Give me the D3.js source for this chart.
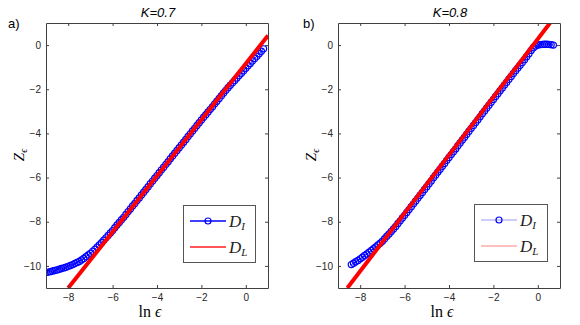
<!DOCTYPE html>
<html>
<head>
<meta charset="utf-8">
<script src="https://cdn.jsdelivr.net/npm/d3@7"></script>
<style>
  body { margin: 0; background: #fff; }
  .axis text { font-family: "Liberation Sans", Arial, sans-serif; font-size: 10px; fill: #262626; }
  .axis path, .axis line { stroke: #404040; }
</style>
</head>
<body>
<svg id="chart" width="580" height="325"></svg>
<script>
// ---- data ----
let xTicks = [-8, -6, -4, -2, 0];
let yTicks = [-10, -8, -6, -4, -2, 0];
let titles = ['K=0.7', 'K=0.8'];
let panelTags = ['a)', 'b)'];

// panel a) D_I (open circles)
let lnEpsA = [-9.0, -8.9, -8.8, -8.7, -8.6, -8.5, -8.4, -8.3, -8.2, -8.1,
  -8.0, -7.9, -7.8, -7.7, -7.6, -7.5, -7.4, -7.3, -7.2, -7.1,
  -7.0, -6.9, -6.8, -6.7, -6.6, -6.5, -6.4, -6.3, -6.2, -6.1,
  -6.0, -5.9, -5.8, -5.7, -5.6, -5.5, -5.4, -5.3, -5.2, -5.1,
  -5.0, -4.9, -4.8, -4.7, -4.6, -4.5, -4.4, -4.3, -4.2, -4.1,
  -4.0, -3.9, -3.8, -3.7, -3.6, -3.5, -3.4, -3.3, -3.2, -3.1,
  -3.0, -2.9, -2.8, -2.7, -2.6, -2.5, -2.4, -2.3, -2.2, -2.1,
  -2.0, -1.9, -1.8, -1.7, -1.6, -1.5, -1.4, -1.3, -1.2, -1.1,
  -1.0, -0.9, -0.8, -0.7, -0.6, -0.5, -0.4, -0.3, -0.2, -0.1,
  0.0, 0.1, 0.2, 0.3, 0.4, 0.5, 0.6, 0.7, 0.8];
let zA = [-10.30, -10.28, -10.26, -10.23, -10.21, -10.18, -10.15, -10.12, -10.09, -10.06,
  -10.02, -9.98, -9.94, -9.89, -9.84, -9.80, -9.73, -9.66, -9.58, -9.50,
  -9.43, -9.34, -9.25, -9.15, -9.05, -8.95, -8.84, -8.73, -8.62, -8.51,
  -8.40, -8.27, -8.15, -8.03, -7.91, -7.80, -7.67, -7.54, -7.42, -7.29,
  -7.17, -7.04, -6.92, -6.79, -6.66, -6.54, -6.41, -6.28, -6.16, -6.03,
  -5.91, -5.78, -5.65, -5.53, -5.40, -5.28, -5.15, -5.02, -4.90, -4.77,
  -4.65, -4.52, -4.40, -4.27, -4.14, -4.02, -3.89, -3.77, -3.64, -3.52,
  -3.39, -3.27, -3.15, -3.03, -2.91, -2.79, -2.66, -2.54, -2.42, -2.29,
  -2.17, -2.05, -1.93, -1.82, -1.71, -1.60, -1.49, -1.38, -1.27, -1.16,
  -1.05, -0.94, -0.83, -0.72, -0.61, -0.50, -0.39, -0.28, -0.17];
// panel a) D_L (straight fit)
let fitXA = [-8.0, 1.0];
let fitZA = [-11.0, 0.43];

// panel b) D_I
let lnEpsB = [-8.4, -8.3, -8.2, -8.1,
  -8.0, -7.9, -7.8, -7.7, -7.6, -7.5, -7.4, -7.3, -7.2, -7.1,
  -7.0, -6.9, -6.8, -6.7, -6.6, -6.5, -6.4, -6.3, -6.2, -6.1,
  -6.0, -5.9, -5.8, -5.7, -5.6, -5.5, -5.4, -5.3, -5.2, -5.1,
  -5.0, -4.9, -4.8, -4.7, -4.6, -4.5, -4.4, -4.3, -4.2, -4.1,
  -4.0, -3.9, -3.8, -3.7, -3.6, -3.5, -3.4, -3.3, -3.2, -3.1,
  -3.0, -2.9, -2.8, -2.7, -2.6, -2.5, -2.4, -2.3, -2.2, -2.1,
  -2.0, -1.9, -1.8, -1.7, -1.6, -1.5, -1.4, -1.3, -1.2, -1.1,
  -1.0, -0.9, -0.8, -0.7, -0.6, -0.5, -0.4, -0.3, -0.2, -0.1,
  0.0, 0.1, 0.2, 0.3, 0.4, 0.5, 0.6, 0.7];
let zB = [-9.94, -9.88, -9.81, -9.75,
  -9.68, -9.61, -9.53, -9.46, -9.38, -9.30, -9.22, -9.14, -9.05, -8.97,
  -8.88, -8.77, -8.66, -8.55, -8.44, -8.33, -8.21, -8.08, -7.96, -7.83,
  -7.71, -7.58, -7.45, -7.32, -7.19, -7.06, -6.93, -6.80, -6.67, -6.54,
  -6.41, -6.28, -6.15, -6.01, -5.88, -5.75, -5.62, -5.49, -5.36, -5.22,
  -5.09, -4.96, -4.83, -4.70, -4.56, -4.43, -4.30, -4.17, -4.04, -3.90,
  -3.77, -3.64, -3.51, -3.38, -3.25, -3.11, -2.98, -2.85, -2.72, -2.59,
  -2.46, -2.33, -2.20, -2.07, -1.94, -1.81, -1.68, -1.55, -1.42, -1.29,
  -1.16, -1.04, -0.91, -0.79, -0.66, -0.53, -0.39, -0.24, -0.12, -0.04,
  0.00, 0.02, 0.03, 0.04, 0.04, 0.03, 0.02, 0.00];
let fitXB = [-8.58, 0.55];
let fitZB = [-11.0, 1.0];

// ---- layout ----
let plotTop = 23, plotBottom = 288;
let panels = [
  { left: 46, right: 268, xs: lnEpsA, zs: zA, fx: fitXA, fz: fitZA, legX: 183, legY: 205, legW: 72, thin: false },
  { left: 338, right: 560, xs: lnEpsB, zs: zB, fx: fitXB, fz: fitZB, legX: 474, legY: 204, legW: 73, thin: true }
];

let svg = d3.select('#chart');

panels.forEach((p, i) => {
  let x = d3.scaleLinear().domain([-9, 1]).range([p.left, p.right]);
  let y = d3.scaleLinear().domain([-11, 1]).range([plotBottom, plotTop]);

  let clipId = 'clip' + i;
  svg.append('clipPath').attr('id', clipId)
    .append('rect')
      .attr('x', p.left).attr('y', plotTop)
      .attr('width', p.right - p.left).attr('height', plotBottom - plotTop);

  let plot = svg.append('g').attr('clip-path', `url(#${clipId})`);

  let pts = p.xs.map((v, k) => [v, p.zs[k]]);
  let line = d3.line().x(d => x(d[0])).y(d => y(d[1]));

  plot.append('path')
      .datum(pts)
      .attr('d', line)
      .attr('fill', 'none')
      .attr('stroke', '#0000ff')
      .attr('stroke-width', 1);

  plot.selectAll('.mk')
      .data(pts)
    .enter().append('circle')
      .attr('class', 'mk')
      .attr('cx', d => x(d[0]))
      .attr('cy', d => y(d[1]))
      .attr('r', 3.1)
      .attr('fill', 'none')
      .attr('stroke', '#0000ff')
      .attr('stroke-width', 1.2);

  let fit = p.fx.map((v, k) => [v, p.fz[k]]);
  plot.append('path')
      .datum(fit)
      .attr('d', line)
      .attr('fill', 'none')
      .attr('stroke', '#ff0000')
      .attr('stroke-width', 4);

  // axes with inward ticks on all four sides
  svg.append('g')
      .attr('class', 'axis')
      .attr('transform', `translate(0,${plotBottom})`)
      .call(d3.axisBottom(x).tickValues(xTicks).tickSizeInner(-3).tickSizeOuter(0).tickPadding(6));
  svg.append('g')
      .attr('class', 'axis')
      .attr('transform', `translate(0,${plotTop})`)
      .call(d3.axisTop(x).tickValues(xTicks).tickSizeInner(-3).tickSizeOuter(0).tickFormat(''));
  svg.append('g')
      .attr('class', 'axis')
      .attr('transform', `translate(${p.left},0)`)
      .call(d3.axisLeft(y).tickValues(yTicks).tickSizeInner(-3).tickSizeOuter(0).tickPadding(5));
  svg.append('g')
      .attr('class', 'axis')
      .attr('transform', `translate(${p.right},0)`)
      .call(d3.axisRight(y).tickValues(yTicks).tickSizeInner(-3).tickSizeOuter(0).tickFormat(''));

  let mid = (p.left + p.right) / 2;

  svg.append('text')
      .attr('x', mid + 1).attr('y', 17)
      .attr('text-anchor', 'middle')
      .style('font-family', '"Liberation Sans", Arial, sans-serif')
      .style('font-size', '13px')
      .style('font-style', 'italic')
      .text(titles[i]);

  svg.append('text')
      .attr('x', p.left - 38 + (i ? 3 : 0)).attr('y', 28)
      .style('font-family', '"Liberation Sans", Arial, sans-serif')
      .style('font-size', '13px')
      .text(panelTags[i]);

  // x label: ln ε
  let xl = svg.append('text')
      .attr('x', mid - 7).attr('y', 317)
      .attr('text-anchor', 'middle')
      .style('font-family', '"Liberation Serif", "DejaVu Serif", serif')
      .style('font-size', '16px');
  xl.append('tspan').text('ln ');
  xl.append('tspan').style('font-style', 'italic').text('ϵ');

  // y label: Z_ε
  let yl = svg.append('text')
      .attr('transform', `translate(${p.left - 22},${155}) rotate(-90)`)
      .attr('text-anchor', 'middle')
      .style('font-family', '"Liberation Serif", "DejaVu Serif", serif')
      .style('font-size', '15px')
      .style('font-style', 'italic');
  yl.append('tspan').text('Z');
  yl.append('tspan').attr('dy', 3).style('font-size', '10px').text('ϵ');

  // legend
  let lg = svg.append('g');
  lg.append('rect')
      .attr('x', p.legX + 0.5).attr('y', p.legY + 0.5)
      .attr('width', p.legW).attr('height', 57)
      .attr('fill', '#fff')
      .attr('stroke', '#555')
      .attr('stroke-width', 1);
  let lx0 = p.legX + 7, lx1 = p.legX + 43;
  let ly = [p.legY + 16, p.legY + 42];
  lg.append('line')
      .attr('x1', lx0).attr('x2', lx1).attr('y1', ly[0]).attr('y2', ly[0])
      .attr('stroke', p.thin ? '#9999ff' : '#0000ff')
      .attr('stroke-width', p.thin ? 1 : 1.5);
  lg.append('circle')
      .attr('cx', (lx0 + lx1) / 2).attr('cy', ly[0]).attr('r', 3)
      .attr('fill', 'none').attr('stroke', '#0000ff').attr('stroke-width', 1.2);
  lg.append('line')
      .attr('x1', lx0).attr('x2', lx1).attr('y1', ly[1]).attr('y2', ly[1])
      .attr('stroke', p.thin ? '#ff8080' : '#ff5555')
      .attr('stroke-width', p.thin ? 1 : 2);
  ['I', 'L'].forEach((s, k) => {
    let t = lg.append('text')
        .attr('x', lx1 + 3).attr('y', ly[k] + 6)
        .style('font-family', '"Liberation Serif", "DejaVu Serif", serif')
        .style('font-size', '17px')
        .style('font-style', 'italic')
        .attr('fill', '#222');
    t.append('tspan').text('D');
    t.append('tspan').attr('dy', 3).style('font-size', '11px').text(s);
  });
});
</script>
</body>
</html>
